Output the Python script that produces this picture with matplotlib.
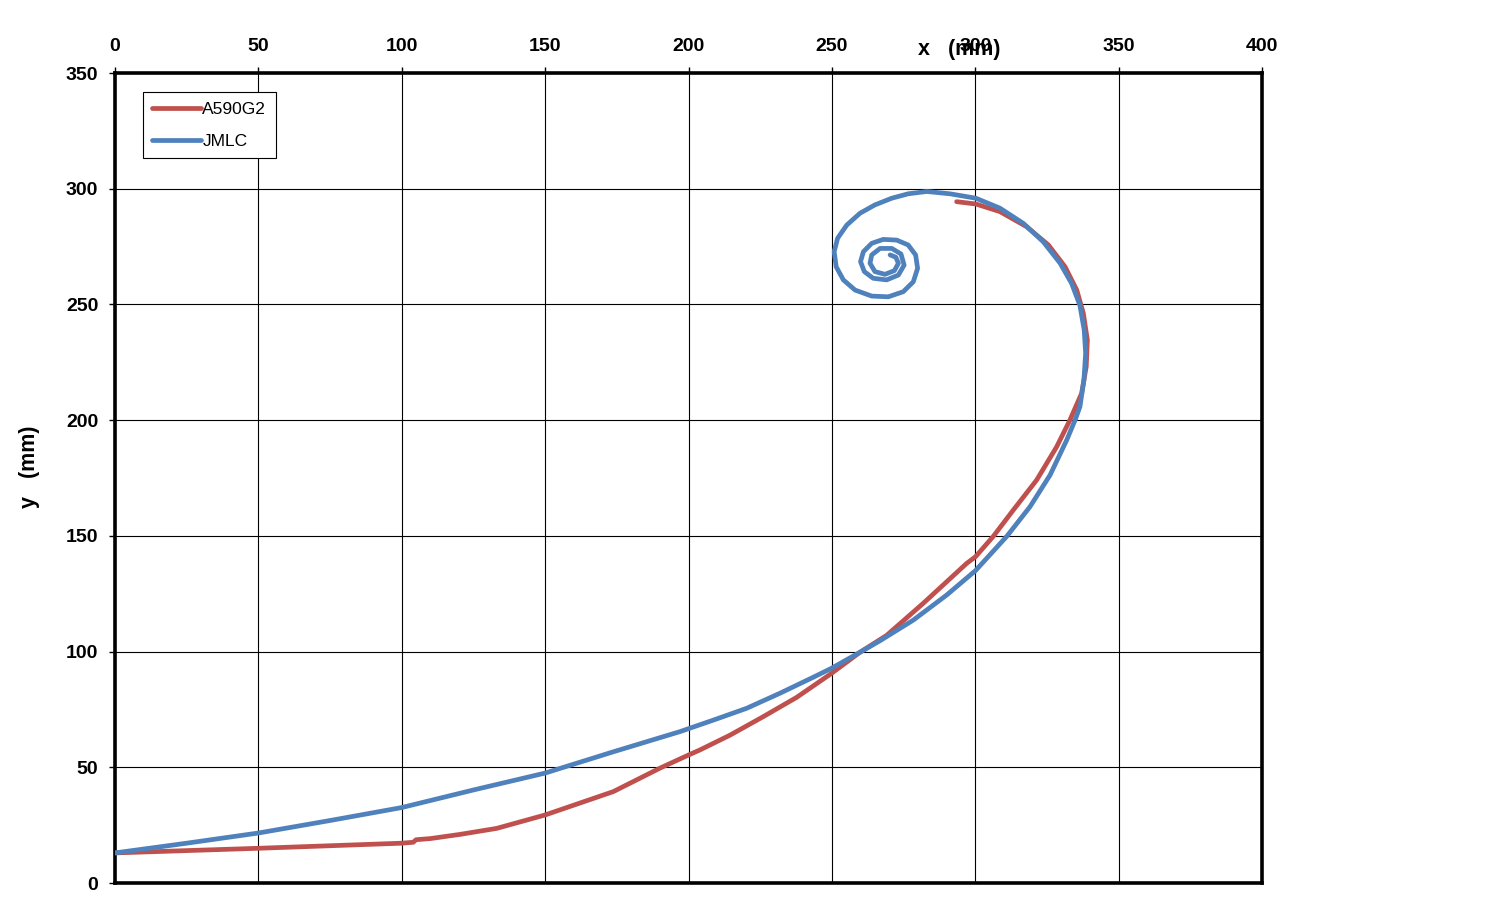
import matplotlib
matplotlib.use('Agg')
import matplotlib.pyplot as plt

plt.rcParams['font.family'] = ['Liberation Sans', 'DejaVu Sans']

# A590G2 trajectory (mm)
red_x = [0, 50, 100, 104, 105, 110, 120.3, 133.1, 150, 173.8, 190, 200, 204.0,
         214.5, 226.1, 237.7, 249.9, 259.8, 269.1, 281.9, 297.0, 300.1, 306.3,
         313.3, 321.4, 328.4, 333.0, 337.1, 338.7, 339.1, 337.7, 335.4, 331.3,
         325.5, 317.9, 308.6, 300.2, 293.5]
red_y = [13, 15.0, 17.2, 17.6, 18.7, 19.2, 21.0, 23.6, 29.4, 39.5, 49.6, 55.3, 57.5,
         63.9, 71.9, 80.2, 90.6, 99.7, 107.0, 120.9, 138.1, 141.0, 149.8,
         161.2, 174.1, 188.5, 200, 211.6, 223.1, 234.6, 246.1, 256.2, 266.3,
         275.7, 283.6, 290.1, 293.4, 294.4]

# JMLC trajectory (mm): long arc, then the spiral winding in to its centre
blue_x = [0, 25, 50, 75, 100, 125, 150, 173.8, 197.0, 208.7, 220.3, 231.9, 243.5,
          249.9, 259.8, 266.8, 278.4, 290.0, 300.1, 311.0, 319.1, 326.1, 331.9,
          334.8, 336.5, 337.9, 338.5, 338.0, 336.5, 333.6, 329.6, 323.7, 316.8,
          308.6, 300.2, 291.2, 283.1, 276.6, 270.9, 265.0, 259.8, 255.2, 252.0,
          250.8, 251.5, 254.0, 258.1, 263.9, 269.7, 274.9, 278.4, 279.9, 279.2,
          276.6, 272.6, 267.9, 263.9, 261.0, 260.0, 261.3, 264.4, 269.1, 273.2,
          275.2, 274.1, 270.9, 266.8, 263.9, 263.3, 265.0, 268.5, 271.8, 273.2,
          272.3, 270.3]
blue_y = [13, 17.2, 21.6, 27.0, 32.6, 40.2, 47.5, 56.7, 65.4, 70.4, 75.5, 82.0, 88.9,
          92.8, 99.7, 104.7, 113.6, 124.4, 135.0, 149.8, 162.6, 176.3, 191.4,
          200, 205.8, 217.3, 228.9, 238.9, 249.6, 259.1, 267.8, 277.1, 285.0,
          291.6, 295.9, 297.8, 298.8, 297.8, 295.9, 293.0, 289.4, 284.3, 278.6,
          272.8, 266.3, 260.6, 256.2, 253.6, 253.3, 255.5, 259.8, 265.6, 271.4,
          275.7, 277.8, 278.1, 276.4, 272.8, 268.5, 264.2, 261.3, 260.6, 262.7,
          267.0, 271.8, 274.2, 274.2, 271.4, 267.8, 264.2, 263.0, 264.6, 267.8,
          270.4, 271.4]

x_ticks = [0, 50, 100, 150, 200, 250, 300, 350, 400]
y_ticks = [0, 50, 100, 150, 200, 250, 300, 350]

fig = plt.figure(figsize=(14.97, 9.23), dpi=100)
ax = fig.add_axes([115 / 1497, 1 - 883 / 923, 1147 / 1497, 810 / 923])

ax.plot(red_x, red_y, color='#C0504D', lw=3.4, solid_capstyle='round',
        solid_joinstyle='round', label='A590G2', zorder=3)
ax.plot(blue_x, blue_y, color='#4F81BD', lw=3.4, solid_capstyle='round',
        solid_joinstyle='round', label='JMLC', zorder=4)

ax.set_xlim(0, 400)
ax.set_ylim(0, 350)
ax.set_xticks(x_ticks)
ax.set_yticks(y_ticks)
ax.xaxis.tick_top()
ax.tick_params(axis='both', direction='out', length=4, width=1, color='black',
               labelsize=14)
ax.tick_params(axis='x', pad=9)
ax.tick_params(axis='y', pad=8)
for lab in ax.get_xticklabels() + ax.get_yticklabels():
    lab.set_fontweight('bold')

ax.grid(True, color='black', lw=0.8)
ax.set_axisbelow(True)
for sp in ax.spines.values():
    sp.set_linewidth(2.6)
    sp.set_color('black')

fig.text(959 / 1497, 1 - 49 / 923, 'x   (mm)', ha='center', va='center',
         fontsize=15.5, fontweight='bold')
fig.text(30 / 1497, 1 - 467 / 923, 'y   (mm)', ha='center', va='center',
         fontsize=15.5, fontweight='bold', rotation=90)

leg = ax.legend(loc='upper left', bbox_to_anchor=(0.024, 0.976), fontsize=12.5,
                frameon=True, fancybox=False, framealpha=1, edgecolor='black',
                handlelength=2.8, handletextpad=0.1, borderpad=0.55,
                labelspacing=0.95, borderaxespad=0)
leg.get_frame().set_linewidth(0.8)

fig.savefig('out.png', dpi=100)
